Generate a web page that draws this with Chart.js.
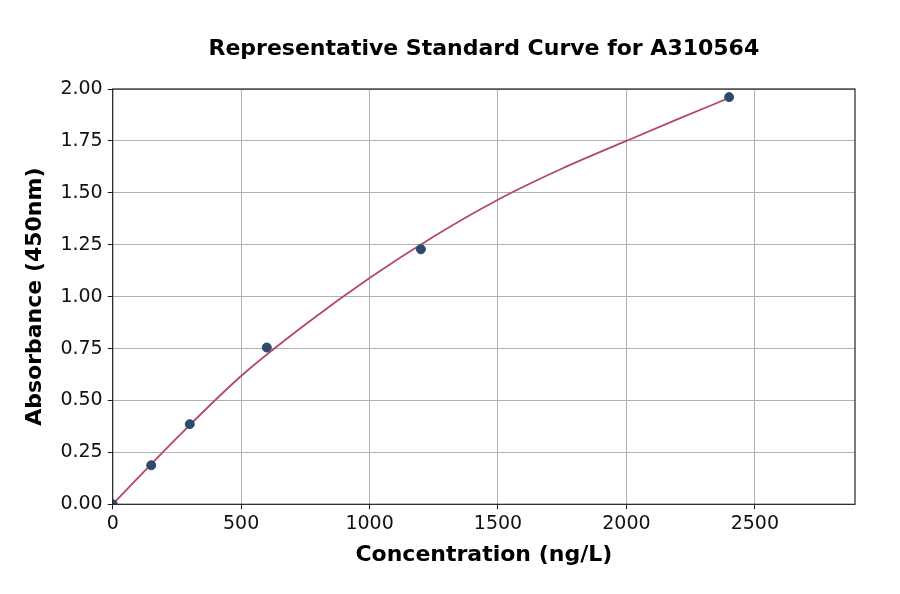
<!DOCTYPE html>
<html>
<head>
<meta charset="utf-8">
<script src="https://cdn.jsdelivr.net/npm/chart.js@4/dist/chart.umd.min.js"></script>
<style>
  html, body { margin: 0; padding: 0; background: #fff; }
  #wrap { width: 900px; height: 594px; }
</style>
</head>
<body>
<div id="wrap"><canvas id="chartCurva"></canvas></div>
<script>
// puntos medidos del estandar
const concentraciones = [0, 150, 300, 600, 1200, 2400];
const absorbancias = [0.0, 0.188, 0.386, 0.755, 1.228, 1.961];

// curva ajustada
const curvaX = [0, 250, 500, 750, 1000, 1250, 1500, 1750, 2000, 2200, 2400];
const curvaY = [0.0, 0.32, 0.618, 0.866, 1.09, 1.29, 1.467, 1.617, 1.75, 1.855, 1.957];

const ticksX = [0, 500, 1000, 1500, 2000, 2500];
const ticksY = [0, 0.25, 0.5, 0.75, 1.0, 1.25, 1.5, 1.75, 2.0];

const titulo = 'Representative Standard Curve for A310564';
const fuente = "'DejaVu Sans', sans-serif";

// marco completo y titulo centrado sobre el area de grafico
const marco = {
    id: 'marco',
    afterDraw(chart) {
        const { ctx, chartArea: a } = chart;
        ctx.save();
        ctx.strokeStyle = '#222';
        ctx.lineWidth = 1.2;
        ctx.strokeRect(a.left, a.top, a.right - a.left, a.bottom - a.top);
        ctx.fillStyle = '#000';
        ctx.font = `bold 22px ${fuente}`;
        ctx.textAlign = 'center';
        ctx.textBaseline = 'middle';
        ctx.fillText(titulo, (a.left + a.right) / 2, 49);
        ctx.restore();
    }
};

const canvas = document.getElementById('chartCurva');
const context = canvas.getContext('2d');

new Chart(context, {
    type: 'scatter',
    data: {
        datasets: [
            {
                label: 'Curva',
                type: 'line',
                data: curvaX.map((x, i) => ({ x: x, y: curvaY[i] })),
                borderColor: '#b5476d',
                borderWidth: 1.8,
                pointRadius: 0,
                cubicInterpolationMode: 'monotone',
                fill: false,
                order: 2
            },
            {
                label: 'Estandar',
                data: concentraciones.map((x, i) => ({ x: x, y: absorbancias[i] })),
                backgroundColor: '#2d4a6e',
                borderColor: '#2d4a6e',
                pointRadius: 4.5,
                order: 1
            }
        ]
    },
    options: {
        responsive: true,
        maintainAspectRatio: false,
        animation: false,
        layout: { padding: { left: 20, right: 45, top: 89, bottom: 22 } },
        plugins: {
            legend: { display: false },
            tooltip: { enabled: false },
            title: { display: false }
        },
        scales: {
            x: {
                type: 'linear',
                min: 0,
                max: 2890,
                afterBuildTicks: (scale) => {
                    scale.ticks = ticksX.map(v => ({ value: v }));
                },
                ticks: {
                    color: '#111',
                    font: { family: fuente, size: 19 },
                    padding: 3,
                    callback: (v) => String(v)
                },
                grid: { color: '#b0b0b0', lineWidth: 1, tickLength: 5, tickColor: '#222' },
                border: { display: false },
                title: {
                    display: true,
                    text: 'Concentration (ng/L)',
                    color: '#000',
                    font: { family: fuente, size: 22, weight: 'bold' },
                    padding: { top: 3.5, bottom: 4 }
                }
            },
            y: {
                type: 'linear',
                min: 0,
                max: 2.0,
                afterBuildTicks: (scale) => {
                    scale.ticks = ticksY.map(v => ({ value: v }));
                },
                ticks: {
                    color: '#111',
                    font: { family: fuente, size: 19 },
                    padding: 5,
                    callback: (v) => v.toFixed(2)
                },
                grid: { color: '#b0b0b0', lineWidth: 1, tickLength: 5, tickColor: '#222' },
                border: { display: false },
                title: {
                    display: true,
                    text: 'Absorbance (450nm)',
                    color: '#000',
                    font: { family: fuente, size: 22, weight: 'bold' },
                    padding: { top: 2, bottom: 7 }
                }
            }
        }
    },
    plugins: [marco]
});
</script>
</body>
</html>
